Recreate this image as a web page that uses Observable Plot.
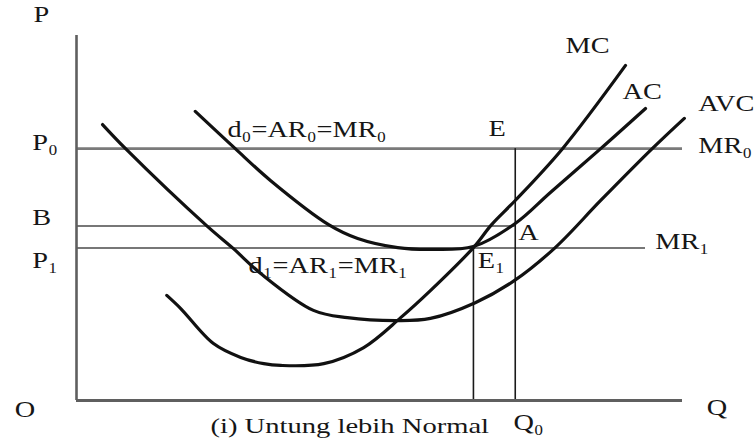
<!DOCTYPE html>
<html>
<head>
<meta charset="utf-8">
<script src="https://cdn.jsdelivr.net/npm/d3@7"></script>
<script src="https://cdn.jsdelivr.net/npm/@observablehq/plot@0.6"></script>
<style>
  html, body { margin: 0; padding: 0; background: #fff; }
  #chart svg { display: block; background: #fff; }
</style>
</head>
<body>
<div id="chart"></div>
<script>
// Quantity (Q) and price (P) in chart units (0–100 on both axes)
const avcQ = [4.3, 8.1, 21.6, 25.9, 30.4, 39.1, 44.7, 53.0, 58.4, 65.8, 72.3, 79.0, 86.5, 95.0, 100.3];
const avcP = [75.6, 69.0, 47.7, 41.6, 34.8, 24.7, 22.7, 21.9, 22.5, 26.8, 32.9, 41.9, 54.8, 69.0, 77.3];

const acQ = [19.6, 26.2, 32.0, 41.6, 46.4, 53.0, 58.4, 65.5, 72.4, 78.2, 86.5, 93.9];
const acP = [79.2, 69.0, 60.3, 48.2, 44.4, 41.9, 41.4, 42.2, 48.5, 57.0, 69.0, 80.0];

const mcQ = [14.9, 17.2, 22.6, 27.1, 30.9, 33.7, 40.8, 47.4, 53.5, 58.4, 65.5, 68.5, 72.4, 80.2, 90.6];
const mcP = [28.8, 25.2, 15.6, 11.8, 10.1, 9.6, 10.1, 14.5, 22.7, 30.1, 41.9, 48.2, 54.8, 69.0, 91.8];

// Horizontal price levels: P0 (= MR0), B, P1 (= MR1)
const levelNames = ["P0", "B", "P1"];
const levelP = [69.0, 47.8, 41.8];
const levelEnd = [100, 72.4, 93.9];

// Vertical quantity drops: E1 and Q0
const dropNames = ["E1", "Q0"];
const dropQ = [65.5, 72.4];
const dropTop = [41.8, 69.0];

// Text labels
const labelText = ["P", "P₀", "B", "P₁", "O", "Q", "Q₀", "E", "MC", "AC", "AVC", "MR₀", "A", "MR₁", "E₁",
                   "d₀=AR₀=MR₀", "d₁=AR₁=MR₁"];
const labelQ = [-7.1, -7.3, -7.3, -7.3, -10.2, 104.0, 72.1, 68.0, 80.7, 90.1, 102.6, 102.6, 72.9, 95.5, 66.2,
                24.9, 28.4];
const labelP = [103.6, 68.5, 48.2, 36.4, -4.4, -4.1, -8.2, 72.6, 95.3, 82.7, 79.2, 67.7, 44.1, 41.4, 36.2,
                72.3, 34.8];

// Caption under the chart
const captionText = ["(i) Untung lebih Normal"];
const captionQ = [22.1];
const captionP = [-9.0];

const toPts = (qs, ps) => qs.map((q, i) => ({q, p: ps[i]}));
const levels = levelNames.map((n, i) => ({n, p: levelP[i], x1: 0, x2: levelEnd[i]}));
const drops = dropNames.map((n, i) => ({n, q: dropQ[i], y1: 0, y2: dropTop[i]}));
const labels = labelText.map((t, i) => ({t, q: labelQ[i], p: labelP[i]}));
const captions = captionText.map((t, i) => ({t, q: captionQ[i], p: captionP[i]}));

const serif = "Liberation Serif, Times New Roman, serif";

const plot = Plot.plot({
  width: 756,
  height: 447,
  marginLeft: 76,
  marginRight: 74,
  marginTop: 35,
  marginBottom: 47,
  x: {domain: [0, 100], axis: null},
  y: {domain: [0, 100], axis: null},
  style: {background: "#fff"},
  marks: [
    // price levels
    Plot.ruleY(levels.filter(d => d.n === "P0"), {y: "p", x1: "x1", x2: "x2", stroke: "#7a7a7a", strokeWidth: 2.6}),
    Plot.ruleY(levels.filter(d => d.n !== "P0"), {y: "p", x1: "x1", x2: "x2", stroke: "#4a4a4a", strokeWidth: 1.6}),
    // vertical drops
    Plot.ruleX(drops, {x: "q", y1: "y1", y2: "y2", stroke: "#1a1a1a", strokeWidth: 1.6}),
    // axes
    Plot.ruleX([0], {y1: 0, y2: 100, stroke: "#5f5f5f", strokeWidth: 2.6}),
    Plot.ruleY([0], {x1: 0, x2: 100, stroke: "#5f5f5f", strokeWidth: 3}),
    // cost curves
    Plot.line(toPts(avcQ, avcP), {x: "q", y: "p", curve: "catmull-rom", stroke: "#111", strokeWidth: 3.2}),
    Plot.line(toPts(acQ, acP), {x: "q", y: "p", curve: "catmull-rom", stroke: "#111", strokeWidth: 3.2}),
    Plot.line(toPts(mcQ, mcP), {x: "q", y: "p", curve: "catmull-rom", stroke: "#111", strokeWidth: 3.2}),
    // labels
    Plot.text(labels, {x: "q", y: "p", text: "t", textAnchor: "start", lineAnchor: "middle",
      fontSize: 24, fontFamily: serif, fill: "#161616"}),
    Plot.text(captions, {x: "q", y: "p", text: "t", textAnchor: "start", lineAnchor: "middle",
      fontSize: 22, fontFamily: serif, fill: "#161616"})
  ]
});

// widen the serif lettering horizontally, as in the reference
plot.querySelectorAll("g[aria-label='text'] text").forEach(t => {
  const x = t.getAttribute("x"), y = t.getAttribute("y");
  let tr = t.getAttribute("transform") || "";
  if (x !== null || y !== null) {
    tr += ` translate(${+x || 0},${+y || 0})`;
    t.removeAttribute("x"); t.removeAttribute("y");
  }
  const sx = t.textContent.startsWith("(i)") ? 1.3 : 1.18;
  t.setAttribute("transform", tr + ` scale(${sx},1)`);
});

document.getElementById("chart").appendChild(plot);
</script>
</body>
</html>
